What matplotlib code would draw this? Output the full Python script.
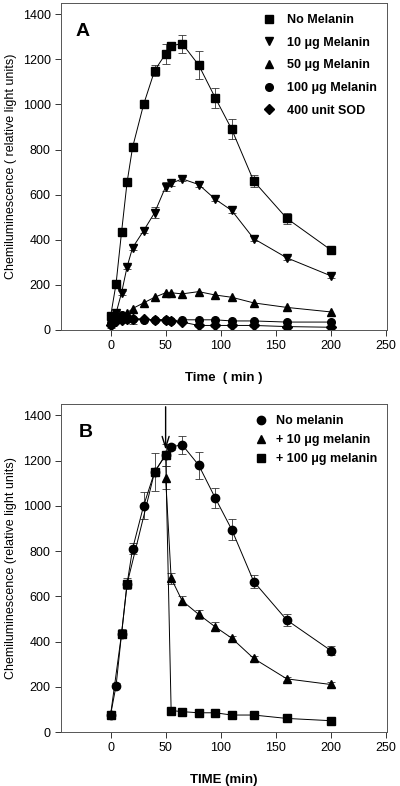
import matplotlib
matplotlib.use('Agg')
import matplotlib.pyplot as plt
from matplotlib.lines import Line2D

plt.rcParams['font.family'] = ['Liberation Sans', 'DejaVu Sans']

# ---- panel A data ----
t_a = [0, 5, 10, 15, 20, 30, 40, 50, 55, 65, 80, 95, 110, 130, 160, 200]
no_mel = [60, 205, 435, 655, 810, 1000, 1150, 1225, 1260, 1270, 1175, 1030, 890, 660, 495, 355]
no_mel_err = [10, 10, 10, 10, 10, 10, 25, 45, 15, 40, 60, 45, 45, 25, 25, 15]
mel10 = [50, 75, 165, 280, 365, 440, 520, 635, 650, 670, 645, 580, 530, 405, 320, 240]
mel10_err = [10, 10, 10, 10, 10, 10, 25, 20, 10, 10, 10, 10, 10, 10, 10, 10]
mel50 = [40, 55, 65, 75, 95, 120, 145, 165, 165, 160, 170, 155, 145, 120, 100, 80]
mel100 = [30, 55, 65, 50, 50, 45, 45, 45, 40, 45, 45, 45, 40, 40, 35, 35]
sod = [20, 40, 45, 50, 50, 48, 45, 45, 40, 35, 20, 20, 20, 20, 15, 12]
low_err = [10, 10, 10, 10, 25, 5, 5, 5, 5, 5, 5, 5, 5, 5, 5, 5]

# ---- panel B data ----
t_b_circ = [0, 5, 10, 15, 20, 30, 40, 50, 55, 65, 80, 95, 110, 130, 160, 200]
b_none = [75, 205, 435, 655, 810, 1000, 1150, 1225, 1260, 1270, 1180, 1035, 895, 665, 495, 360]
b_none_err = [10, 10, 20, 25, 25, 60, 85, 50, 15, 40, 60, 45, 45, 30, 25, 20]
t_b_tri = [50, 55, 65, 80, 95, 110, 130, 160, 200]
b_10 = [1125, 680, 580, 520, 465, 415, 325, 235, 210]
b_10_err = [50, 25, 20, 20, 20, 10, 10, 10, 10]
t_b_sq = [0, 10, 15, 40, 50, 55, 65, 80, 95, 110, 130, 160, 200]
b_100 = [75, 435, 655, 1150, 1225, 95, 90, 85, 85, 75, 75, 60, 50]

fig = plt.figure(figsize=(4.0, 7.86), dpi=100)
ax1 = fig.add_axes([0.1525, 0.5802, 0.815, 0.416])
ax2 = fig.add_axes([0.1525, 0.0687, 0.815, 0.4173])

ms = 5.5
lw = 0.7
ekw = dict(ecolor='#333333', elinewidth=0.6, capsize=3, capthick=0.6)


def style(ax):
    ax.set_xlim(-45, 251)
    ax.set_ylim(0, 1450)
    ax.set_xticks([0, 50, 100, 150, 200, 250])
    ax.set_yticks([0, 200, 400, 600, 800, 1000, 1200, 1400])
    ax.tick_params(direction='out', length=4, width=0.7, labelsize=9, color='#333333')
    for s in ax.spines.values():
        s.set_color('#555555')
        s.set_linewidth(0.7)


# panel A
ax1.errorbar(t_a, sod, yerr=low_err, color='black', marker='D', ms=ms - 0.5, lw=lw, **ekw)
ax1.errorbar(t_a, mel100, color='black', marker='o', ms=ms, lw=lw)
ax1.errorbar(t_a, mel50, color='black', marker='^', ms=ms + 0.5, lw=lw)
ax1.errorbar(t_a, mel10, yerr=mel10_err, color='black', marker='v', ms=ms + 0.5, lw=lw, **ekw)
ax1.errorbar(t_a, no_mel, yerr=no_mel_err, color='black', marker='s', ms=ms, lw=lw, **ekw)
style(ax1)
ax1.set_xlabel('Time  ( min )', fontsize=9.5, fontweight='bold', labelpad=14)
ax1.set_ylabel('Chemiluminescence ( relative light units)', fontsize=9)
ax1.text(0.043, 0.94, 'A', transform=ax1.transAxes, fontsize=14, fontweight='bold', va='top')

hA = [Line2D([], [], color='black', marker=m, ls='none', ms=s)
      for m, s in [('s', ms), ('v', ms + 0.5), ('^', ms + 0.5), ('o', ms), ('D', ms - 0.5)]]
labA = ['No Melanin', '10 \u03bcg Melanin', '50 \u03bcg Melanin', '100 \u03bcg Melanin', '400 unit SOD']
ax1.legend(hA, labA, loc='upper left', bbox_to_anchor=(0.585, 1.0), frameon=False,
           prop={'size': 9, 'weight': 'bold'}, handlelength=1.0, handletextpad=0.9,
           labelspacing=0.85)

# panel B
ax2.errorbar(t_b_circ, b_none, yerr=b_none_err, color='black', marker='o', ms=ms + 0.5, lw=lw, **ekw)
ax2.errorbar(t_b_tri, b_10, yerr=b_10_err, color='black', marker='^', ms=ms + 0.5, lw=lw, **ekw)
ax2.errorbar(t_b_sq, b_100, color='black', marker='s', ms=ms, lw=lw)
style(ax2)
ax2.set_xlabel('TIME (min)', fontsize=9.5, fontweight='bold', labelpad=14)
ax2.set_ylabel('Chemiluminescence (relative light units)', fontsize=9)
ax2.text(0.055, 0.94, 'B', transform=ax2.transAxes, fontsize=14, fontweight='bold', va='top')
ax2.annotate('', xy=(50, 1235), xytext=(50, 1450),
             arrowprops=dict(arrowstyle='->,head_length=0.8,head_width=0.25', color='black', lw=1.0))

hB = [Line2D([], [], color='black', marker=m, ls='none', ms=ms + 0.5) for m in ['o', '^', 's']]
labB = ['No melanin', '+ 10 \u03bcg melanin', '+ 100 \u03bcg melanin']
ax2.legend(hB, labB, loc='upper left', bbox_to_anchor=(0.56, 1.0), frameon=False,
           prop={'size': 9, 'weight': 'bold'}, handlelength=1.0, handletextpad=0.7,
           labelspacing=0.55)

fig.savefig('out.png', dpi=100)
